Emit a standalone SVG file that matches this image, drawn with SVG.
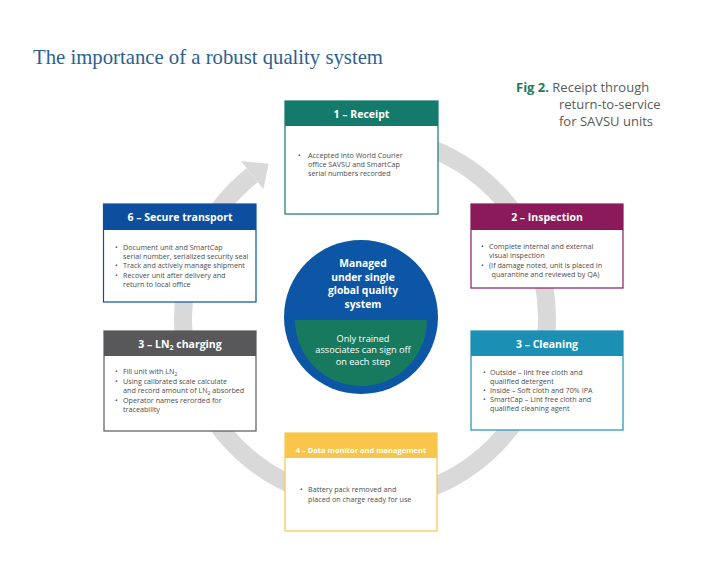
<svg xmlns="http://www.w3.org/2000/svg" width="720" height="567" viewBox="0 0 720 567">
<style>
.title{font-family:"Liberation Serif",serif;font-size:21px;fill:#2d5f8f}
.cap{font-family:"Open Sans","Noto Sans",sans-serif;font-size:13px;fill:#5a5a5a}
.capb{font-weight:bold;fill:#1d7a5c}
.hd{font-family:"Open Sans","Noto Sans",sans-serif;font-size:10.5px;font-weight:bold;fill:#fff;text-anchor:middle}
.bd{font-family:"Open Sans","Noto Sans",sans-serif;font-size:7.2px;fill:#4d4d4d}
.ctb{font-family:"Open Sans","Noto Sans",sans-serif;font-size:10.3px;font-weight:bold;fill:#fff;text-anchor:middle}
.ct{font-family:"Open Sans","Noto Sans",sans-serif;font-size:9.2px;fill:#fff;text-anchor:middle}
.box{fill:#fff;stroke-width:1.2}
</style>
<rect width="720" height="567" fill="#fff"/>
<text class="title" x="33" y="64" textLength="350" lengthAdjust="spacingAndGlyphs">The importance of a robust quality system</text>
<text class="cap" x="516" y="92"><tspan class="capb">Fig 2.</tspan> Receipt through</text>
<text class="cap" x="559" y="109">return-to-service</text>
<text class="cap" x="559" y="126">for SAVSU units</text>

<g id="connectors">
<path d="M 396.6 138.8 A 182 182 0 1 1 252.2 175.2" fill="none" stroke="#d9d9d9" stroke-width="18"/>
<polygon points="241,161 268.6,163.7 263.4,189.3" fill="#d9d9d9"/>
</g>

<g id="receipt">
<rect class="box" x="285" y="101" width="153" height="113" stroke="#137a6c"/>
<rect x="285" y="101" width="153" height="25" fill="#137a6c"/>
<text class="hd" x="361.5" y="117.5">1 – Receipt</text>
<text class="bd" x="298" y="158">•</text>
<text class="bd" x="308" y="158">Accepted into World Courier</text>
<text class="bd" x="308" y="167">office SAVSU and SmartCap</text>
<text class="bd" x="308" y="176">serial numbers recorded</text>
</g>

<g id="secure-transport">
<rect class="box" x="103.5" y="204" width="152.5" height="98" stroke="#0d4f9e"/>
<rect x="103.5" y="204" width="152.5" height="26" fill="#0d4f9e"/>
<text class="hd" x="180" y="220.5">6 – Secure transport</text>
<text class="bd" x="115" y="249.5">•</text>
<text class="bd" x="123" y="249.5">Document unit and SmartCap</text>
<text class="bd" x="123" y="259">serial number, serialized security seal</text>
<text class="bd" x="115" y="268.3">•</text>
<text class="bd" x="123" y="268.3">Track and actively manage shipment</text>
<text class="bd" x="115" y="277.6">•</text>
<text class="bd" x="123" y="277.6">Recover unit after delivery and</text>
<text class="bd" x="123" y="287">return to local office</text>
</g>

<g id="inspection">
<rect class="box" x="471" y="204" width="152" height="84" stroke="#8a1a5a"/>
<rect x="471" y="204" width="152" height="26" fill="#8a1a5a"/>
<text class="hd" x="547" y="220.5">2 – Inspection</text>
<text class="bd" x="481" y="249">•</text>
<text class="bd" x="489" y="249">Complete internal and external</text>
<text class="bd" x="489" y="258.3">visual inspection</text>
<text class="bd" x="481" y="267.6">•</text>
<text class="bd" x="489" y="267.6">(If damage noted, unit is placed in</text>
<text class="bd" x="491.5" y="277">quarantine and reviewed by QA)</text>
</g>

<g id="ln2-charging">
<rect class="box" x="104" y="331" width="152" height="100" stroke="#58585a"/>
<rect x="104" y="331" width="152" height="25" fill="#58585a"/>
<text class="hd" x="180" y="347.5">3 – LN<tspan font-size="7" dy="2.5">2</tspan><tspan dy="-2.5"> charging</tspan></text>
<text class="bd" x="115" y="374">•</text>
<text class="bd" x="123" y="374">Fill unit with LN<tspan font-size="5" dy="1.5">2</tspan></text>
<text class="bd" x="115" y="383.5">•</text>
<text class="bd" x="123" y="383.5">Using calibrated scale calculate</text>
<text class="bd" x="123" y="393">and record amount of LN<tspan font-size="5" dy="1.5">2</tspan><tspan dy="-1.5"> absorbed</tspan></text>
<text class="bd" x="115" y="402.5">•</text>
<text class="bd" x="123" y="402.5">Operator names rerorded for</text>
<text class="bd" x="123" y="412">traceability</text>
</g>

<g id="cleaning">
<rect class="box" x="471" y="331" width="152" height="99" stroke="#1b8fb4"/>
<rect x="471" y="331" width="152" height="25" fill="#1b8fb4"/>
<text class="hd" x="547" y="347.5">3 – Cleaning</text>
<text class="bd" x="483" y="375">•</text>
<text class="bd" x="490" y="375">Outside – lint free cloth and</text>
<text class="bd" x="490" y="384">qualified detergent</text>
<text class="bd" x="483" y="393">•</text>
<text class="bd" x="490" y="393">Inside – Soft cloth and 70% IPA</text>
<text class="bd" x="483" y="402">•</text>
<text class="bd" x="490" y="402">SmartCap – Lint free cloth and</text>
<text class="bd" x="490" y="411">qualified cleaning agent</text>
</g>

<g id="data-monitor">
<rect class="box" x="285" y="433" width="152" height="98" stroke="#f8c64a" stroke-width="1.5"/>
<rect x="285" y="433" width="152" height="25" fill="#f8c64a"/>
<text class="hd" x="361" y="452.5" style="font-size:7.5px">4 – Data monitor and management</text>
<text class="bd" x="300" y="492">•</text>
<text class="bd" x="308" y="492">Battery pack removed and</text>
<text class="bd" x="308" y="501.5">placed on charge ready for use</text>
</g>

<g id="center">
<circle cx="361" cy="317" r="77" fill="#0c56a5"/>
<path d="M 295 320 L 427 320 A 66 66 0 0 1 295 320 Z" fill="#177a5f"/>
<text class="ctb" x="363" y="267">Managed</text>
<text class="ctb" x="363" y="280.5">under single</text>
<text class="ctb" x="363" y="294">global quality</text>
<text class="ctb" x="363" y="307.5">system</text>
<text class="ct" x="363" y="341.5">Only trained</text>
<text class="ct" x="363" y="353.3">associates can sign off</text>
<text class="ct" x="363" y="365">on each step</text>
</g>
</svg>
